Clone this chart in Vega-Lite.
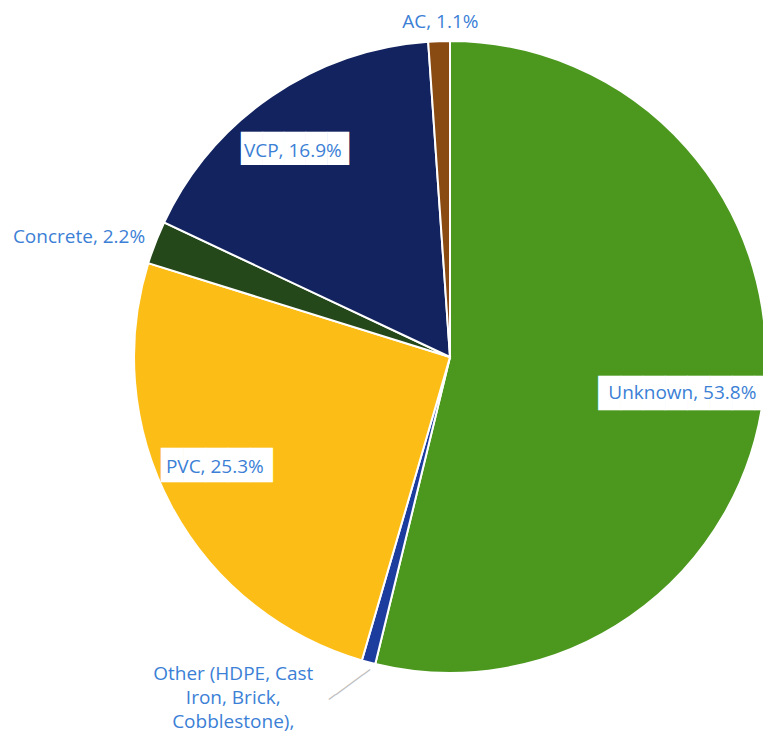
{
  "$schema": "https://vega.github.io/schema/vega-lite/v6.json",
  "width": 626,
  "height": 714,
  "autosize": {"type": "none"},
  "padding": {"left": 137, "top": 0, "right": 0, "bottom": 28},
  "background": "white",
  "config": {"view": {"stroke": null}},
  "data": {
    "values": [
      {"material": "Unknown", "value": 53.8, "order": 1, "label": "Unknown, 53.8%"},
      {"material": "Other", "value": 0.7, "order": 2, "label": "Other (HDPE, Cast\nIron, Brick,\nCobblestone),"},
      {"material": "PVC", "value": 25.3, "order": 3, "label": "PVC, 25.3%"},
      {"material": "Concrete", "value": 2.2, "order": 4, "label": "Concrete, 2.2%"},
      {"material": "VCP", "value": 16.9, "order": 5, "label": "VCP, 16.9%"},
      {"material": "AC", "value": 1.1, "order": 6, "label": "AC, 1.1%"}
    ]
  },
  "encoding": {
    "theta": {"field": "value", "type": "quantitative", "stack": true},
    "order": {"field": "order", "type": "quantitative"}
  },
  "layer": [
    {
      "mark": {"type": "arc", "outerRadius": 316, "stroke": "white", "strokeWidth": 2},
      "encoding": {
        "color": {
          "field": "material", "type": "nominal", "legend": null,
          "scale": {
            "domain": ["Unknown", "Other", "PVC", "Concrete", "VCP", "AC"],
            "range": ["#4c981f", "#1c3c9e", "#fcbd17", "#24481a", "#12235f", "#8a4b12"]
          }
        }
      }
    },
    {
      "mark": {"type": "text", "radius": 234, "dx": 5, "dy": 9, "font": "DejaVu Sans", "fontSize": 29, "color": "white", "baseline": "middle"},
      "encoding": {"text": {"condition": {"test": "datum.material === 'Unknown'", "value": "████████"}, "value": ""}}
    },
    {
      "mark": {"type": "text", "radius": 234, "dy": 8, "font": "Open Sans", "fontSize": 19, "color": "#3c7fd6", "baseline": "middle"},
      "encoding": {"text": {"condition": {"test": "datum.material === 'Unknown'", "field": "label", "type": "nominal"}, "value": ""}}
    },
    {
      "mark": {"type": "text", "radius": 337, "dx": 2, "dy": 2, "font": "Open Sans", "fontSize": 19, "color": "#3c7fd6", "baseline": "middle"},
      "encoding": {"text": {"condition": {"test": "datum.material === 'AC'", "field": "label", "type": "nominal"}, "value": ""}}
    },
    {
      "mark": {"type": "text", "radius": 250, "dx": -14, "dy": -1, "font": "DejaVu Sans", "fontSize": 28, "color": "white", "baseline": "middle"},
      "encoding": {"text": {"condition": {"test": "datum.material === 'VCP'", "value": "█████"}, "value": ""}}
    },
    {
      "mark": {"type": "text", "radius": 250, "dx": -16, "font": "Open Sans", "fontSize": 19, "color": "#3c7fd6", "baseline": "middle"},
      "encoding": {"text": {"condition": {"test": "datum.material === 'VCP'", "field": "label", "type": "nominal"}, "value": ""}}
    },
    {
      "mark": {"type": "text", "radius": 398, "dx": -2, "dy": 24, "font": "DejaVu Sans", "fontSize": 27, "color": "white", "baseline": "middle"},
      "encoding": {"text": {"condition": {"test": "datum.material === 'Concrete'", "value": "███████"}, "value": ""}}
    },
    {
      "mark": {"type": "text", "radius": 398, "dy": 24, "font": "Open Sans", "fontSize": 19, "color": "#3c7fd6", "baseline": "middle"},
      "encoding": {"text": {"condition": {"test": "datum.material === 'Concrete'", "field": "label", "type": "nominal"}, "value": ""}}
    },
    {
      "mark": {"type": "text", "radius": 267, "dx": 2, "dy": -17, "font": "DejaVu Sans", "fontSize": 29, "color": "white", "baseline": "middle"},
      "encoding": {"text": {"condition": {"test": "datum.material === 'PVC'", "value": "█████"}, "value": ""}}
    },
    {
      "mark": {"type": "text", "radius": 267, "dy": -16, "font": "Open Sans", "fontSize": 19, "color": "#3c7fd6", "baseline": "middle"},
      "encoding": {"text": {"condition": {"test": "datum.material === 'PVC'", "field": "label", "type": "nominal"}, "value": ""}}
    },
    {
      "mark": {"type": "text", "radius": 336, "dx": -13, "dy": -5, "angle": -36, "font": "DejaVu Sans", "fontSize": 14, "color": "#c0c0c0", "baseline": "middle"},
      "encoding": {"text": {"condition": {"test": "datum.material === 'Other'", "value": "──────"}, "value": ""}}
    },
    {
      "mark": {"type": "text", "radius": 352, "dx": -126, "dy": -23, "font": "Open Sans", "fontSize": 19, "color": "#3c7fd6", "baseline": "middle", "lineBreak": "\n", "lineHeight": 24},
      "encoding": {"text": {"condition": {"test": "datum.material === 'Other'", "field": "label", "type": "nominal"}, "value": ""}}
    }
  ]
}
